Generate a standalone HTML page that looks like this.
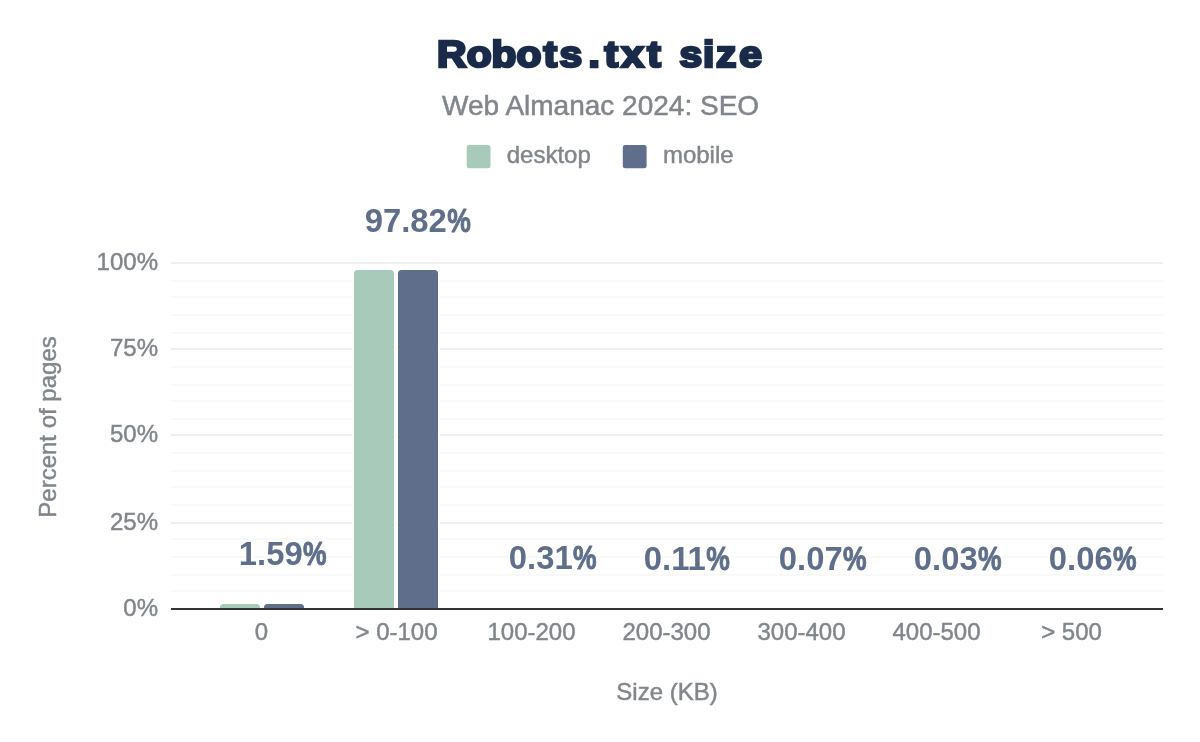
<!DOCTYPE html>
<html lang="en"><head><meta charset="utf-8"><title>Robots.txt size</title>
<style>
html,body{margin:0;padding:0;background:#fff;}
svg{display:block;}
text{font-family:"Liberation Sans",sans-serif;}
.ax{font-size:24px;fill:#80868b;stroke:#80868b;stroke-width:0.45px;}
.dl{font-size:32.8px;font-weight:bold;fill:#5f6f8b;stroke:#fff;stroke-width:3px;paint-order:stroke fill;stroke-linejoin:round;}
.pc{stroke:#5f6f8b;stroke-width:0.9px;paint-order:normal;}
</style></head><body>
<svg width="1200" height="742" viewBox="0 0 1200 742">
<rect x="0" y="0" width="1200" height="742" fill="#ffffff"/>
<text transform="translate(0,67.40) scale(1.085,1)" x="402.82 430.11 452.96 476.10 500.99 515.58 542.50 557.12 572.62 596.47 613.82 626.27 648.03 660.00 681.37" y="0" font-size="37.5" font-weight="bold" fill="#1a2b49" stroke="#1a2b49" stroke-width="2.7" stroke-linejoin="miter">Robots.txt size</text>
<text x="600.6" y="114.7" text-anchor="middle" font-size="28" fill="#80868b" stroke="#80868b" stroke-width="0.5">Web Almanac 2024: SEO</text>
<rect x="466.7" y="145" width="23.8" height="23.3" rx="2.5" fill="#a8caba"/>
<text x="506.7" y="163.3" class="ax">desktop</text>
<rect x="622.8" y="145" width="23.8" height="23.3" rx="2.5" fill="#5f6f8b"/>
<text x="662.9" y="163.3" class="ax">mobile</text>
<rect x="171" y="262.0" width="992" height="2" fill="#f0f0f0"/>
<rect x="171" y="280.0" width="992" height="2" fill="#f8f9f9"/>
<rect x="171" y="296.0" width="992" height="2" fill="#f8f9f9"/>
<rect x="171" y="314.0" width="992" height="2" fill="#f8f9f9"/>
<rect x="171" y="332.0" width="992" height="2" fill="#f8f9f9"/>
<rect x="171" y="348.0" width="992" height="2" fill="#f0f0f0"/>
<rect x="171" y="366.0" width="992" height="2" fill="#f8f9f9"/>
<rect x="171" y="384.0" width="992" height="2" fill="#f8f9f9"/>
<rect x="171" y="400.0" width="992" height="2" fill="#f8f9f9"/>
<rect x="171" y="418.0" width="992" height="2" fill="#f8f9f9"/>
<rect x="171" y="434.0" width="992" height="2" fill="#f0f0f0"/>
<rect x="171" y="452.0" width="992" height="2" fill="#f8f9f9"/>
<rect x="171" y="470.0" width="992" height="2" fill="#f8f9f9"/>
<rect x="171" y="486.0" width="992" height="2" fill="#f8f9f9"/>
<rect x="171" y="504.0" width="992" height="2" fill="#f8f9f9"/>
<rect x="171" y="522.0" width="992" height="2" fill="#f0f0f0"/>
<rect x="171" y="538.0" width="992" height="2" fill="#f8f9f9"/>
<rect x="171" y="556.0" width="992" height="2" fill="#f8f9f9"/>
<rect x="171" y="574.0" width="992" height="2" fill="#f8f9f9"/>
<rect x="171" y="590.0" width="992" height="2" fill="#f8f9f9"/>
<text x="158" y="270.20" text-anchor="end" class="ax">100%</text>
<text x="158" y="356.20" text-anchor="end" class="ax">75%</text>
<text x="158" y="442.20" text-anchor="end" class="ax">50%</text>
<text x="158" y="530.20" text-anchor="end" class="ax">25%</text>
<text x="158" y="616.20" text-anchor="end" class="ax">0%</text>
<text transform="translate(56,427) rotate(-90)" text-anchor="middle" class="ax">Percent of pages</text>
<path d="M218.50 609.00 V607.30 Q218.50 602.50 223.30 602.50 H256.70 Q261.50 602.50 261.50 607.30 V609.00 Z" fill="#ffffff"/>
<path d="M220.00 609.00 V607.60 Q220.00 604.00 223.60 604.00 H256.40 Q260.00 604.00 260.00 607.60 V609.00 Z" fill="#a8caba"/>
<path d="M262.50 609.00 V607.30 Q262.50 602.50 267.30 602.50 H300.70 Q305.50 602.50 305.50 607.30 V609.00 Z" fill="#ffffff"/>
<path d="M264.00 609.00 V607.60 Q264.00 604.00 267.60 604.00 H300.40 Q304.00 604.00 304.00 607.60 V609.00 Z" fill="#5f6f8b"/>
<path d="M352.50 609.00 V273.30 Q352.50 268.50 357.30 268.50 H390.70 Q395.50 268.50 395.50 273.30 V609.00 Z" fill="#ffffff"/>
<path d="M354.00 609.00 V273.60 Q354.00 270.00 357.60 270.00 H390.40 Q394.00 270.00 394.00 273.60 V609.00 Z" fill="#a8caba"/>
<path d="M396.50 609.00 V273.30 Q396.50 268.50 401.30 268.50 H434.70 Q439.50 268.50 439.50 273.30 V609.00 Z" fill="#ffffff"/>
<path d="M398.00 609.00 V273.60 Q398.00 270.00 401.60 270.00 H434.40 Q438.00 270.00 438.00 273.60 V609.00 Z" fill="#5f6f8b"/>
<rect x="171" y="608" width="992" height="2" fill="#333333"/>
<text x="261.5" y="640" text-anchor="middle" class="ax">0</text>
<text x="396.5" y="640" text-anchor="middle" class="ax">&gt; 0-100</text>
<text x="531.5" y="640" text-anchor="middle" class="ax">100-200</text>
<text x="666.5" y="640" text-anchor="middle" class="ax">200-300</text>
<text x="801.5" y="640" text-anchor="middle" class="ax">300-400</text>
<text x="936.5" y="640" text-anchor="middle" class="ax">400-500</text>
<text x="1071.5" y="640" text-anchor="middle" class="ax">&gt; 500</text>
<text x="667" y="699.8" text-anchor="middle" class="ax">Size (KB)</text>
<text x="238.83" y="564.90" class="dl">1.59<tspan class="pc" dx="0.4" textLength="23.6" lengthAdjust="spacingAndGlyphs">%</tspan></text>
<text x="364.71" y="231.94" class="dl">97.82<tspan class="pc" dx="0.4" textLength="23.6" lengthAdjust="spacingAndGlyphs">%</tspan></text>
<text x="508.83" y="569.33" class="dl">0.31<tspan class="pc" dx="0.4" textLength="23.6" lengthAdjust="spacingAndGlyphs">%</tspan></text>
<text x="643.83" y="570.02" class="dl">0.11<tspan class="pc" dx="0.4" textLength="23.6" lengthAdjust="spacingAndGlyphs">%</tspan></text>
<text x="778.83" y="570.16" class="dl">0.07<tspan class="pc" dx="0.4" textLength="23.6" lengthAdjust="spacingAndGlyphs">%</tspan></text>
<text x="913.83" y="570.30" class="dl">0.03<tspan class="pc" dx="0.4" textLength="23.6" lengthAdjust="spacingAndGlyphs">%</tspan></text>
<text x="1048.83" y="570.19" class="dl">0.06<tspan class="pc" dx="0.4" textLength="23.6" lengthAdjust="spacingAndGlyphs">%</tspan></text>
</svg>
</body></html>
